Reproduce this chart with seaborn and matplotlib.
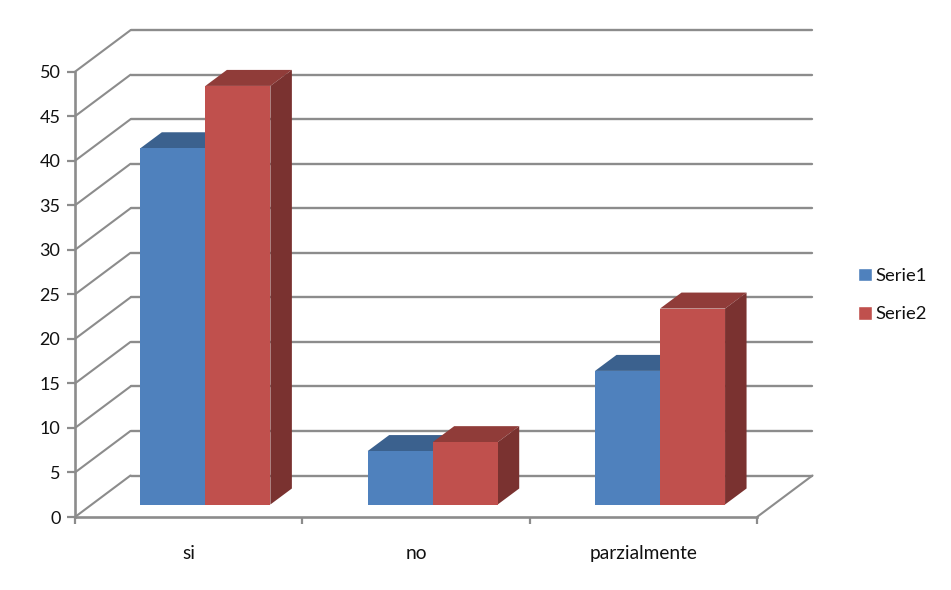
import matplotlib

matplotlib.use("Agg")

import matplotlib.pyplot as plt
import matplotlib.transforms as mtransforms
import numpy as np
import pandas as pd
import seaborn as sns
from matplotlib.patches import Polygon

categories = ["si", "no", "parzialmente"]
serie1 = [40, 6, 15]
serie2 = [47, 7, 22]
series_names = ["Serie1", "Serie2"]
y_ticks = list(range(0, 55, 5))

FACE_COLORS = ["#4F81BD", "#C0504D"]
TOP_COLORS = ["#3B618E", "#903C39"]
SIDE_COLORS = ["#3B618E", "#7A3230"]
GRID_COLOR = "#8C8C8C"

# offsets in pixels, the chart is a fake 3d one
WALL_DX, WALL_DY = 55.5, 41.5
BAR_DX, BAR_DY = 16.7, 12.5
DEPTH_DX, DEPTH_DY = 21.5, 16
DPI = 100

sns.set_theme(style="white")
plt.rcParams["font.family"] = ["Lato", "DejaVu Sans"]

df = pd.DataFrame(
    {
        "categoria": categories * 2,
        "valore": serie1 + serie2,
        "serie": [series_names[0]] * 3 + [series_names[1]] * 3,
    }
)

fig = plt.figure(figsize=(9.51, 5.9), dpi=DPI)
ax = fig.add_axes([75 / 951, (590 - 517) / 590, 682 / 951, 445.3 / 590])

sns.barplot(
    data=df,
    x="categoria",
    y="valore",
    hue="serie",
    palette=FACE_COLORS,
    width=0.572,
    gap=0,
    saturation=1,
    errorbar=None,
    ax=ax,
    zorder=5,
)

ax.set_xlim(-0.5, 2.5)
ax.set_ylim(0, 50)
ax.set_xlabel("")
ax.set_ylabel("")


def shifted(dx, dy):
    return ax.transData + mtransforms.Affine2D().translate(dx, dy)


# back wall and slanted grid lines
wall = shifted(WALL_DX, WALL_DY)
for v in y_ticks:
    ax.plot([-0.5, 2.5], [v, v], color=GRID_COLOR, lw=1.7, transform=wall, clip_on=False, zorder=1)
    pts = ax.transData.transform([(-0.5, v), (-0.5, v)])
    pts[1] += [WALL_DX, WALL_DY]
    ax.plot(pts[:, 0], pts[:, 1], color=GRID_COLOR, lw=1.5, transform=None, clip_on=False, zorder=1)

# floor edge on the right
pts = ax.transData.transform([(2.5, 0), (2.5, 0)])
pts[1] += [WALL_DX, WALL_DY]
ax.plot(pts[:, 0], pts[:, 1], color=GRID_COLOR, lw=1.5, transform=None, clip_on=False, zorder=1)

# move the bars off the front plane and add top and side faces
bars = [p for c in ax.containers for p in c]
face = shifted(BAR_DX, BAR_DY)
order = sorted(range(len(bars)), key=lambda i: (bars[i].get_x(), i))
for z, i in enumerate(order):
    bar = bars[i]
    bar.set_transform(face)
    bar.set_clip_on(False)
    bar.set_linewidth(0)
    bar.set_zorder(3 + z * 0.1 + 0.05)
    color_idx = 0 if i < 3 else 1
    x0, x1 = bar.get_x(), bar.get_x() + bar.get_width()
    h = bar.get_height()
    a, b, c = face.transform([(x0, h), (x1, h), (x1, 0)])
    d = np.array([DEPTH_DX, DEPTH_DY])
    top = Polygon([a, b, b + d, a + d], closed=True, transform=None, fc=TOP_COLORS[color_idx], lw=0, clip_on=False)
    side = Polygon([b, c, c + d, b + d], closed=True, transform=None, fc=SIDE_COLORS[color_idx], lw=0, clip_on=False)
    top.set_zorder(3 + z * 0.1)
    side.set_zorder(3 + z * 0.1)
    ax.add_artist(top)
    ax.add_artist(side)

# axis
for name, spine in ax.spines.items():
    spine.set_visible(name in ("left", "bottom"))
    spine.set_color(GRID_COLOR)
    spine.set_linewidth(1.9)
    spine.set_zorder(2)

ax.set_yticks(y_ticks)
ax.set_xticks([-0.5, 0.5, 1.5, 2.5])
ax.set_xticklabels([])
ax.set_xticks([0, 1, 2], minor=True)
ax.set_xticklabels(categories, minor=True)
ax.tick_params(axis="y", left=True, length=5.5, width=1.6, color=GRID_COLOR, pad=5, labelsize=13, labelcolor="#111111")
ax.tick_params(axis="x", which="major", bottom=True, length=5, width=1.6, color=GRID_COLOR)
ax.tick_params(axis="x", which="minor", bottom=False, length=0, pad=20, labelsize=13.8, labelcolor="#111111")

handles, labels = ax.get_legend_handles_labels()
ax.legend(
    handles,
    labels,
    loc="center left",
    bbox_to_anchor=(851 / 951, (590 - 295) / 590),
    bbox_transform=fig.transFigure,
    frameon=False,
    fontsize=13.3,
    handlelength=0.75,
    handleheight=0.75,
    handletextpad=0.15,
    labelspacing=1.2,
    borderaxespad=0,
    labelcolor="#111111",
)

fig.savefig("out.png", dpi=DPI)
